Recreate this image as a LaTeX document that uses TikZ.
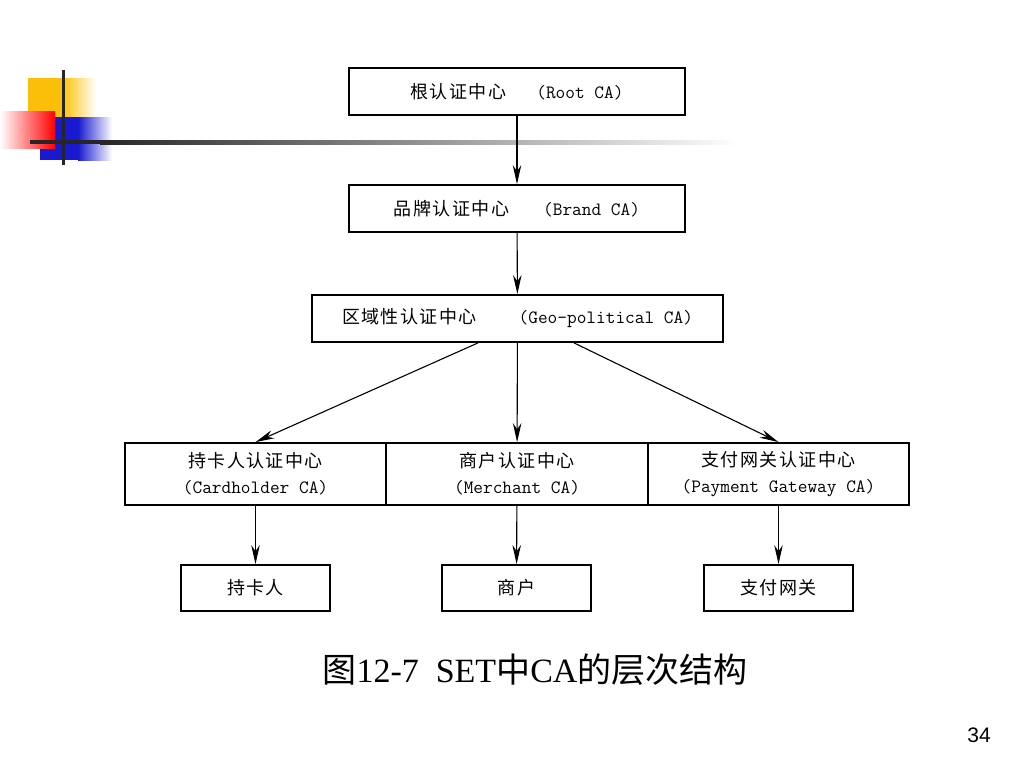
\documentclass[tikz,border=0pt]{standalone}
\usepackage{fontspec}
\setmainfont{Liberation Serif}
\setsansfont{Liberation Sans}
\newfontfamily\cjk[LetterSpace=8]{Noto Sans CJK SC}
\newfontfamily\cjkcap{Noto Sans CJK SC}
\newcommand\latn[1]{{\ttfamily\fontsize{18.8}{25}\selectfont #1}}
\usetikzlibrary{calc,positioning,arrows.meta}

\begin{document}
\begin{tikzpicture}[x=1pt, y=-1pt, >={Stealth[length=19pt,width=8.5pt]},
   ca/.style={rectangle, draw, line width=1.8pt, inner sep=0pt, align=center,
     font=\fontsize{18}{26}\selectfont},
   link/.style={->, line width=1.1pt}]

  \useasboundingbox (0,0) rectangle (1024,768);

  % corner ornament
  \fill[yellow!20!orange!60!yellow] (28,78) rectangle (62,117);
  \shade[left color=yellow!20!orange!60!yellow, right color=white] (62,78) rectangle (96,117);
  \fill[blue!80!black!90] (40,117) rectangle (78,160);
  \shade[left color=blue!80!black!90, right color=white] (78,117) rectangle (112,160);
  \shade[left color=white, right color=red] (0,111) rectangle (55,148);
  \fill[black!85] (30,140) rectangle (100,144);
  \shade[left color=black!85, right color=white] (100,140) rectangle (740,144);
  \draw[line width=3pt, black!85] (63,70) -- (63,165);

  % CA nodes
  \node[ca, minimum width=336, minimum height=47] (root) at (517,91.5)
    {{\cjk 根认证中心}\hspace{30pt}\latn{(Root CA)}};
  \node[ca, minimum width=336, minimum height=47] (brand) at (517,208.5)
    {{\cjk 品牌认证中心}\hspace{34pt}\latn{(Brand CA)}};
  \node[ca, minimum width=411, minimum height=47] (geo) at (517.5,318.5)
    {{\cjk 区域性认证中心}\hspace{42pt}\latn{(Geo-political CA)}};
  \node[ca, minimum width=261, minimum height=62] (card) at (255.5,474)
    {{\cjk 持卡人认证中心}\\\latn{(Cardholder CA)}};
  \node[ca, minimum width=262, minimum height=62] (merch) at (517,474)
    {{\cjk 商户认证中心}\\\latn{(Merchant CA)}};
  \node[ca, minimum width=261, minimum height=62] (pay) at (778.5,474)
    {{\cjk 支付网关认证中心}\\\latn{(Payment Gateway CA)}};
  \node[ca, minimum width=149, minimum height=46] (holder) at (255.5,588) {\cjk 持卡人};
  \node[ca, minimum width=149, minimum height=46] (merchant) at (516.5,588) {\cjk 商户};
  \node[ca, minimum width=149, minimum height=46] (gateway) at (778.5,588) {\cjk 支付网关};

  \draw[link] (root) -- (brand);
  \draw[link] (brand) -- (geo);
  \draw[link] ([xshift=-39.5pt]geo.south) -- (card.north);
  \draw[link] (geo) -- (merch);
  \draw[link] ([xshift=56.5pt]geo.south) -- (pay.north);
  \draw[link] (card) -- (holder);
  \draw[link] (merch) -- (merchant);
  \draw[link] (pay) -- (gateway);

  % caption and page number
  \node[font=\fontsize{34}{38}\selectfont, anchor=base] (caption) at (535,682)
    {{\cjkcap 图}12-7\ \ SET{\cjkcap 中}CA{\cjkcap 的层次结构}};
  \node[font=\sffamily\fontsize{21}{24}\selectfont] (page) at (979,735) {34};
\end{tikzpicture}
\end{document}
